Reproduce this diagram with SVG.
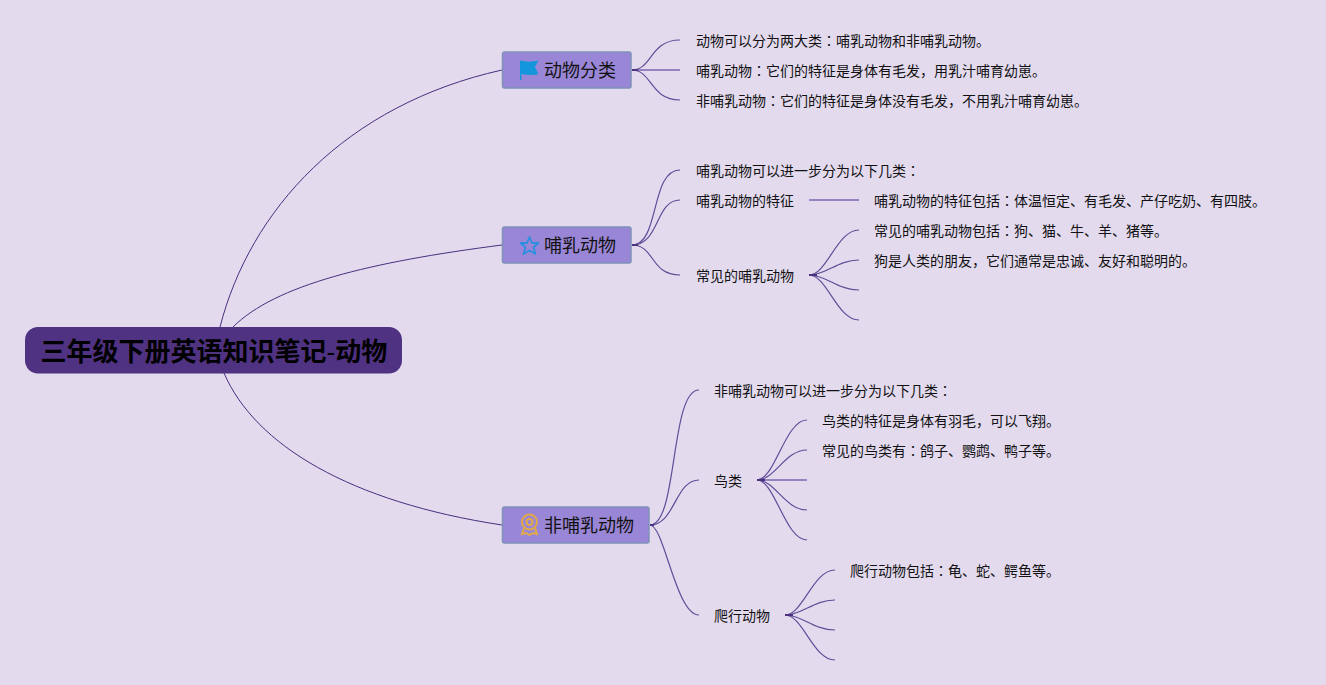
<svg xmlns="http://www.w3.org/2000/svg" width="1326" height="685" viewBox="0 0 1326 685">
<style>
text{font-family:"Noto Sans CJK SC","Liberation Sans",sans-serif;fill:#111}
.t{font-size:14px}
.m{font-size:18px}
.r{font-size:26px;font-weight:700;fill:#000}
.c{font-family:"Noto Sans CJK JP",sans-serif}
.h{font-family:"Liberation Sans",sans-serif;font-weight:400}
.b{fill:#9a86d6;stroke:#7f93b8;stroke-width:1.5}
#connectors path{fill:none;stroke:#5f4d98;stroke-width:1.200}
#connectors path.o{stroke:#45307f;stroke-width:1}
#connectors path.s{stroke:#9583c0;stroke-width:2}
#connectors path.u{stroke:#4c3180;stroke-width:2}
</style>
<rect width="1326" height="685" fill="#e3daee"/>
<g id="connectors">
<path class="o" d="M220 327C250 210 345 105 502 70"/>
<path class="o" d="M233 327C275 285 370 262 502 245"/>
<path class="o" d="M224 373C255 445 350 502 502 525"/>
<path class="s" d="M632 70H680"/>
<path class="s" d="M809 200H859"/>
<path class="s" d="M757 480H807"/>
<path d="M632 70C652 70 650 40 680 40"/>
<path d="M632 70C652 70 650 100 680 100"/>
<path d="M632 245C660 245 650 170 680 170"/>
<path d="M632 245C660 245 655 200 680 200"/>
<path d="M632 245C655 245 650 275 680 275"/>
<path d="M809 275C827 275 837 230 859 230"/>
<path d="M809 275C827 275 837 260 859 260"/>
<path d="M809 275C827 275 837 290 859 290"/>
<path d="M809 275C827 275 837 320 859 320"/>
<path d="M650 525C678 525 670 390 699 390"/>
<path d="M650 525C675 525 675 480 699 480"/>
<path d="M650 525C664 525 676 615 699 615"/>
<path d="M757 480C775 480 785 420 807 420"/>
<path d="M757 480C775 480 785 450 807 450"/>
<path d="M757 480C775 480 785 510 807 510"/>
<path d="M757 480C775 480 785 540 807 540"/>
<path d="M785 615C803 615 813 570 835 570"/>
<path d="M785 615C803 615 813 600 835 600"/>
<path d="M785 615C803 615 813 630 835 630"/>
<path d="M785 615C803 615 813 660 835 660"/>
<path class="u" d="M632 70H638M632 245H638M650 525H654M809 275H817M757 480H765M785 615H793"/>
</g>
<g id="root"><rect x="25" y="327" width="377" height="46.500" rx="13" fill="#503282"/><text class="r" x="40.500" y="361">三年级下册英语知识笔记<tspan class="h">-</tspan>动物</text></g>
<g id="n1"><rect class="b" x="502.500" y="52" width="128.500" height="36" rx="2"/>
<path d="M520 60.500C526 62 533 62 538.500 60.500L535 67L538.500 74C533 75.500 527 75 521.500 74V80H520Z" fill="#1496dc"/>
<text class="m" x="544" y="77">动物分类</text></g>
<g id="n2"><rect class="b" x="502.500" y="227" width="128.500" height="36" rx="2"/>
<path d="M529.500 237L532 243H538.500L533.500 247.500L535.500 254L529.500 250.500L523.500 254L525.500 247.500L520.500 243H527Z" fill="none" stroke="#2a8fe0" stroke-width="1.800" stroke-linejoin="round"/>
<text class="m" x="544" y="252">哺乳动物</text></g>
<g id="n3"><rect class="b" x="502.500" y="507" width="146.500" height="36" rx="2"/>
<g fill="none" stroke="#e0a94a" stroke-width="2"><circle cx="529.500" cy="522" r="7.500"/><circle cx="529.500" cy="522" r="3"/><path d="M524 528L522 534L526 533L529.500 535L533 533L537 534L535 528"/></g>
<text class="m" x="544" y="532">非哺乳动物</text></g>
<g id="l1"><text class="t" x="696" y="46">动物可以分为两大类<tspan class="c">：</tspan>哺乳动物和非哺乳动物。</text></g>
<g id="l2"><text class="t" x="696" y="76">哺乳动物<tspan class="c">：</tspan>它们的特征是身体有毛发，用乳汁哺育幼崽。</text></g>
<g id="l3"><text class="t" x="696" y="106">非哺乳动物<tspan class="c">：</tspan>它们的特征是身体没有毛发，不用乳汁哺育幼崽。</text></g>
<g id="l4"><text class="t" x="696" y="176">哺乳动物可以进一步分为以下几类<tspan class="c">：</tspan></text></g>
<g id="l5"><text class="t" x="696" y="206">哺乳动物的特征</text></g>
<g id="l6"><text class="t" x="874" y="206">哺乳动物的特征包括<tspan class="c">：</tspan>体温恒定、有毛发、产仔吃奶、有四肢。</text></g>
<g id="l7"><text class="t" x="696" y="281">常见的哺乳动物</text></g>
<g id="l8"><text class="t" x="874" y="236">常见的哺乳动物包括<tspan class="c">：</tspan>狗、猫、牛、羊、猪等。</text></g>
<g id="l9"><text class="t" x="874" y="266">狗是人类的朋友，它们通常是忠诚、友好和聪明的。</text></g>
<g id="l10"><text class="t" x="714" y="396">非哺乳动物可以进一步分为以下几类<tspan class="c">：</tspan></text></g>
<g id="l11"><text class="t" x="714" y="486">鸟类</text></g>
<g id="l12"><text class="t" x="822" y="426">鸟类的特征是身体有羽毛，可以飞翔。</text></g>
<g id="l13"><text class="t" x="822" y="456">常见的鸟类有<tspan class="c">：</tspan>鸽子、鹦鹉、鸭子等。</text></g>
<g id="l14"><text class="t" x="714" y="621">爬行动物</text></g>
<g id="l15"><text class="t" x="850" y="576">爬行动物包括<tspan class="c">：</tspan>龟、蛇、鳄鱼等。</text></g>
</svg>
